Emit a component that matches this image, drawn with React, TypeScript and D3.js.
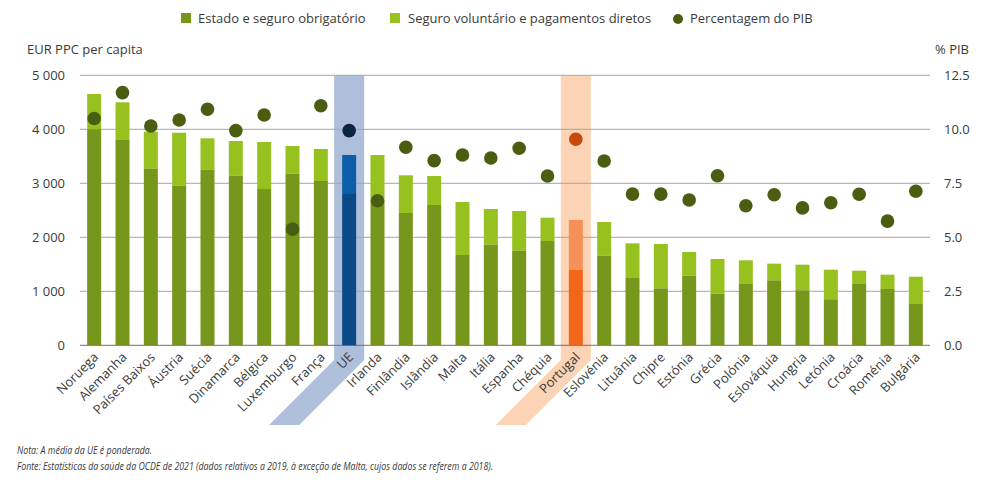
import React from "react";
import * as d3 from "d3";

const countries = ["Noruega","Alemanha","Países Baixos","Áustria","Suécia","Dinamarca","Bélgica","Luxemburgo","França","UE","Irlanda","Finlândia","Islândia","Malta","Itália","Espanha","Chéquia","Portugal","Eslovénia","Lituânia","Chipre","Estónia","Grécia","Polónia","Eslováquia","Hungria","Letónia","Croácia","Roménia","Bulgária"];
const compulsory = [4000,3802,3270,2956,3252,3141,2894,3178,3043,2802,2690,2450,2598,1672,1863,1752,1931,1394,1660,1246,1055,1290,956,1135,1203,1018,852,1135,1043,765];
const totalSpend = [4654,4500,3956,3937,3833,3783,3765,3691,3635,3524,3524,3148,3135,2654,2524,2487,2363,2320,2283,1888,1876,1728,1598,1574,1512,1493,1400,1382,1308,1270];
const pctGDP = [10.5,11.7,10.15,10.43,10.93,9.94,10.66,5.38,11.09,9.94,6.69,9.17,8.55,8.81,8.67,9.12,7.84,9.54,8.53,7.0,7.0,6.73,7.85,6.46,6.97,6.36,6.6,6.99,5.75,7.13];
const leftTicks = [0,1000,2000,3000,4000,5000];
const rightTicks = [0,2.5,5,7.5,10,12.5];

const W = 990, H = 489;
const x0 = 80, x1 = 930, yTop = 75.3, yBot = 345.3;
const FONT = "'Open Sans', sans-serif";
const TXT = "#3a3a3a";

export default function App() {
  const x = d3.scaleBand<string>().domain(countries).range([x0, x1]).paddingInner(0.5).paddingOuter(0.25);
  const yL = d3.scaleLinear().domain([0, 5000]).range([yBot, yTop]);
  const yR = d3.scaleLinear().domain([0, 12.5]).range([yBot, yTop]);
  const bw = 14;
  const fmtL = (v: number) => d3.format(",")(v).replace(",", " ");
  const fmtR = d3.format(".1f");

  const colors = (c: string) => {
    if (c === "UE") return { dark: "#0b4a86", light: "#0a5fa8", dot: "#0b2440" };
    if (c === "Portugal") return { dark: "#f26619", light: "#f59058", dot: "#c8490c" };
    return { dark: "#76961c", light: "#97c11f", dot: "#4a5e12" };
  };

  const band = (c: string, fill: string) => {
    const cx = (x(c) as number) + x.bandwidth() / 2;
    const hw = 15;
    const yb = 360, ye = 425, off = ye - yb;
    const pts = [
      [cx - hw, yTop], [cx + hw, yTop], [cx + hw, yb], [cx + hw - off, ye], [cx - hw - off, ye], [cx - hw, yb],
    ];
    return <polygon points={pts.map((p) => p.join(",")).join(" ")} fill={fill} />;
  };

  return (
    <svg width={W} height={H} style={{ display: "block", position: "absolute", left: 0, top: 0 }} fontFamily={FONT}>
      <rect width={W} height={H} fill="#fff" />
      {/* legend */}
      <g fontSize={13} fill={TXT}>
        <rect x={181} y={13} width={10} height={10} fill="#76961c" />
        <text x={198} y={23}>Estado e seguro obrigatório</text>
        <rect x={390} y={13} width={10} height={10} fill="#97c11f" />
        <text x={408} y={23}>Seguro voluntário e pagamentos diretos</text>
        <circle cx={678} cy={19} r={5} fill="#4a5e12" />
        <text x={690} y={23}>Percentagem do PIB</text>
      </g>
      <text x={27} y={54} fontSize={13} fill={TXT}>EUR PPC per capita</text>
      <text x={969} y={54} fontSize={13} fill={TXT} textAnchor="end">% PIB</text>

      {band("UE", "#aebfdb")}
      {band("Portugal", "#fcd3b4")}

      {leftTicks.map((t) => (
        <g key={t}>
          <line x1={x0} x2={x1} y1={yL(t)} y2={yL(t)} stroke={t === 0 ? "#707070" : "#a6a6a6"} strokeWidth={1} />
          <text x={65} y={yL(t)} dy="0.35em" textAnchor="end" fontSize={13} fill={TXT}>{fmtL(t)}</text>
        </g>
      ))}
      {rightTicks.map((t) => (
        <text key={t} x={944} y={yR(t)} dy="0.35em" fontSize={13} fill={TXT}>{fmtR(t)}</text>
      ))}

      {countries.map((c, i) => {
        const cx = (x(c) as number) + x.bandwidth() / 2;
        const col = colors(c);
        return (
          <g key={c}>
            <rect x={cx - bw / 2} y={yL(totalSpend[i])} width={bw} height={yL(compulsory[i]) - yL(totalSpend[i])} fill={col.light} />
            <rect x={cx - bw / 2} y={yL(compulsory[i])} width={bw} height={yBot - yL(compulsory[i])} fill={col.dark} />
          </g>
        );
      })}
      {countries.map((c, i) => {
        const cx = (x(c) as number) + x.bandwidth() / 2;
        return <circle key={c} cx={cx} cy={yR(pctGDP[i])} r={6.8} fill={colors(c).dot} />;
      })}
      {countries.map((c) => {
        const cx = (x(c) as number) + x.bandwidth() / 2;
        return (
          <text key={c} transform={`translate(${cx + 5},${358}) rotate(-45)`} textAnchor="end" fontSize={13} fill={TXT}>{c}</text>
        );
      })}

      <g fontSize={11.6} fontStyle="italic" fill={TXT}>
        <text x={17} y={454} textLength={135} lengthAdjust="spacingAndGlyphs">Nota: A média da UE é ponderada.</text>
        <text x={17} y={470} textLength={476} lengthAdjust="spacingAndGlyphs">Fonte: Estatísticas da saúde da OCDE de 2021 (dados relativos a 2019, à exceção de Malta, cujos dados se referem a 2018).</text>
      </g>
    </svg>
  );
}
